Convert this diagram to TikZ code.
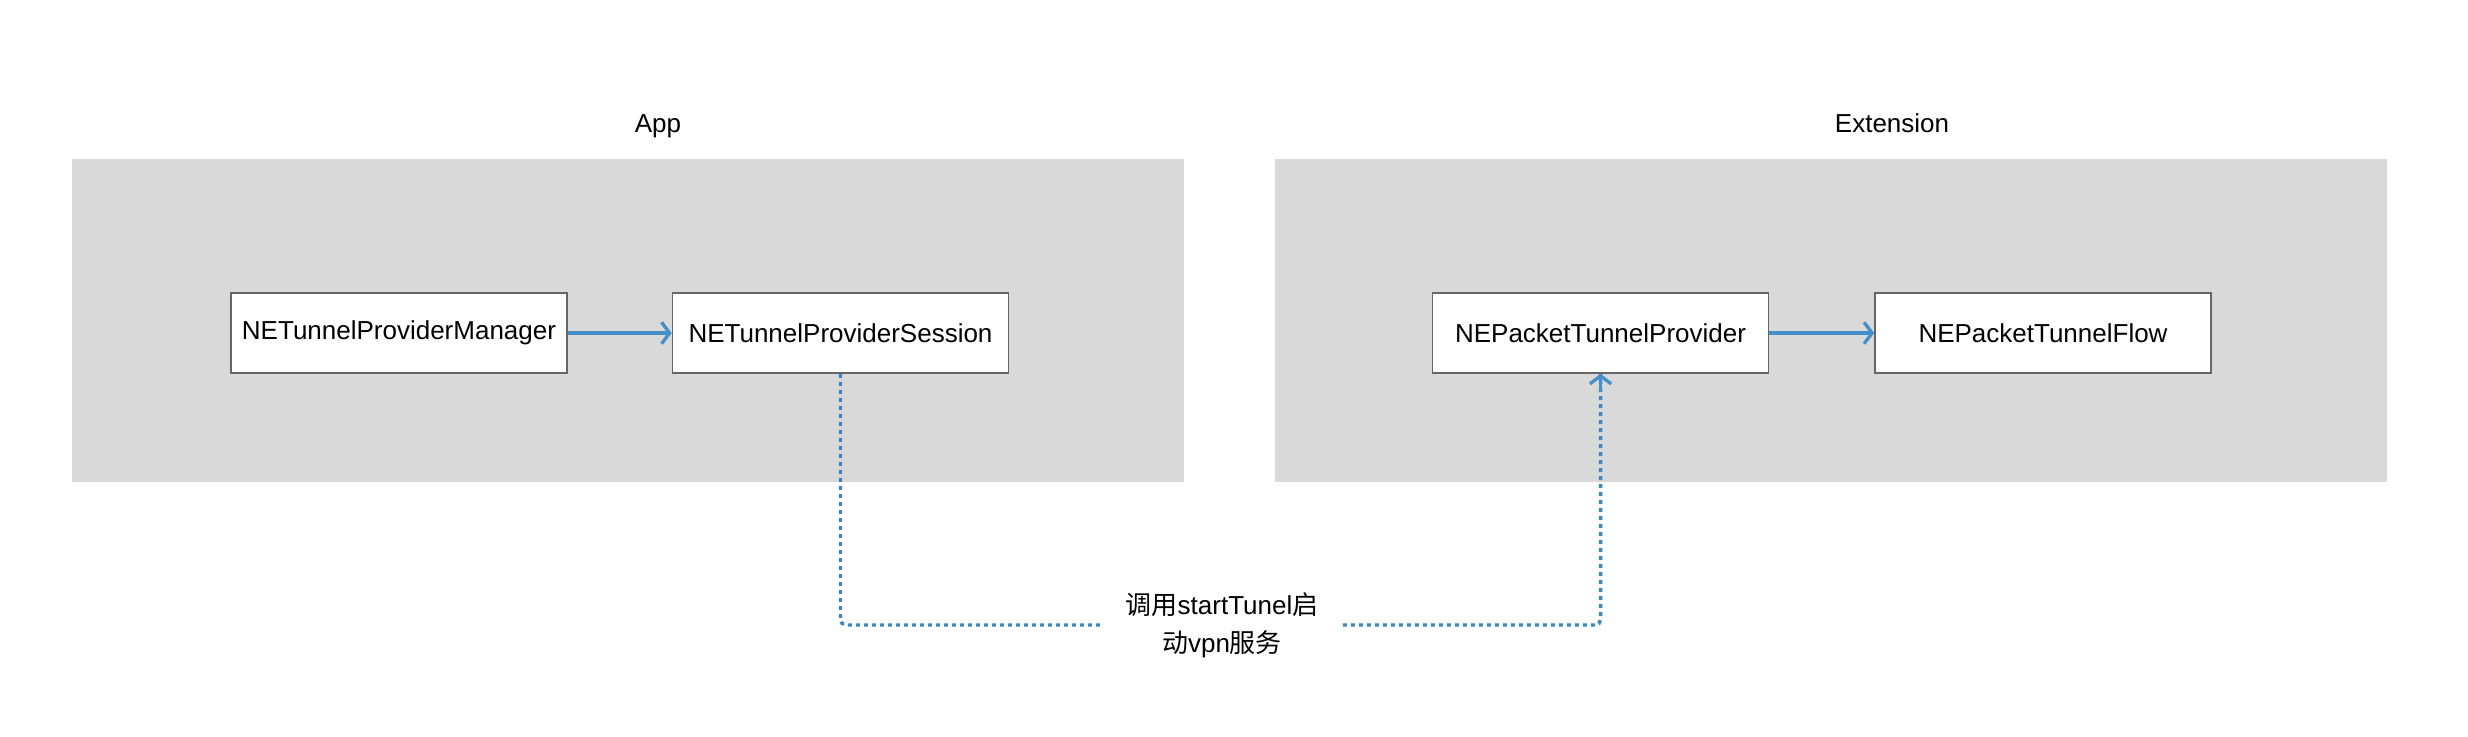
\documentclass[tikz,border=0pt]{standalone}
\usepackage{fontspec}
\setmainfont{Liberation Sans}
\newfontfamily\cjk{Noto Sans CJK SC}
\usetikzlibrary{arrows.meta}
\definecolor{panelgray}{HTML}{D9D9D9}
\definecolor{arrowblue}{HTML}{4590C8}
\definecolor{dotblue}{HTML}{3F86BC}
\definecolor{boxline}{HTML}{666666}
\tikzset{
  panel/.style={fill=panelgray, draw=none, inner sep=0pt, minimum width=834pt, minimum height=242.25pt},
  classbox/.style={fill=white, draw=boxline, line width=1.2pt, inner sep=0pt, minimum width=252pt, minimum height=60pt, font=\fontsize{19.5}{23}\selectfont},
  title/.style={font=\fontsize{19.5}{23}\selectfont, inner sep=0pt},
  solidarrow/.style={draw=arrowblue, line width=3pt, -{Straight Barb[length=6pt,width=16pt,line width=2.5pt]}},
  dotarrow/.style={draw=dotblue, line width=2.6pt, dash pattern=on 3pt off 3pt, line cap=butt, rounded corners=4pt},
  edgelabel/.style={font=\fontsize{19.5}{28.5}\selectfont, align=center, inner sep=0pt, minimum width=180.75pt}
}
\begin{document}
\begin{tikzpicture}[x=0.75pt, y=-0.75pt]
\useasboundingbox (0,0) rectangle (2468,736);
\node[panel] (app) at (628,320.5) {};
\node[panel] (ext) at (1830.5,320.5) {};
\node[title] (applbl) at (658,126) {App};
\node[title] (extlbl) at (1892,123) {Extension};
\node[classbox] (mgr) at (399,333) {NETunnelProviderManager};
\node[classbox] (sess) at (840.5,333) {NETunnelProviderSession};
\node[classbox] (ptp) at (1600.5,333) {NEPacketTunnelProvider};
\node[classbox] (ptf) at (2043,333) {NEPacketTunnelFlow};
\draw[solidarrow] (mgr.east) -- (sess.west);
\draw[solidarrow] (ptp.east) -- (ptf.west);
\node[edgelabel] (lbl) at (1222,625) {{\cjk 调用}startTunel{\cjk 启}\\{\cjk 动}vpn{\cjk 服务}};
\draw[dotarrow] (sess.south) |- (lbl.west);
\draw[dotarrow] (lbl.east) -| (ptp.south);
\draw[draw=arrowblue, line width=2.5pt, -{Straight Barb[length=6pt,width=16pt,line width=2.5pt]}] ([yshift=-14pt]ptp.south) -- (ptp.south);
\end{tikzpicture}
\end{document}
